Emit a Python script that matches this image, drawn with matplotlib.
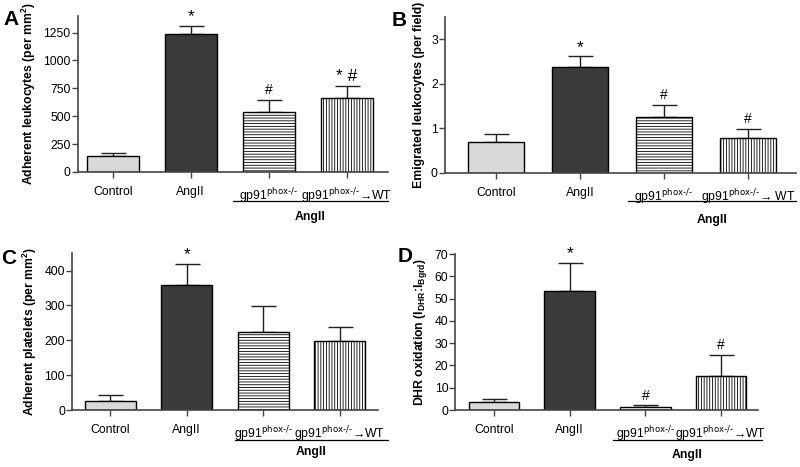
import matplotlib
matplotlib.use("Agg")
import matplotlib.pyplot as plt

plt.rcParams['font.family'] = ['Liberation Sans', 'DejaVu Sans']
plt.rcParams['mathtext.default'] = 'regular'
plt.rcParams['hatch.linewidth'] = 0.6
plt.rcParams['hatch.color'] = '#333333'

# --- data ---
groups = ['Control', 'AngII', 'gp91$^{\\text{phox-/-}}$', 'gp91$^{\\text{phox-/-}}$→WT']
groups_b = ['Control', 'AngII', 'gp91$^{\\text{phox-/-}}$', 'gp91$^{\\text{phox-/-}}$→ WT']

leuko_adh = [138, 1235, 537, 662]
leuko_adh_err = [170, 1312, 648, 773]
leuko_adh_marks = ['', '*', '#', '* #']

leuko_emi = [0.70, 2.37, 1.26, 0.79]
leuko_emi_err = [0.88, 2.61, 1.52, 0.99]
leuko_emi_marks = ['', '*', '#', '#']

platelets = [27, 359, 224, 199]
platelets_err = [42, 419, 298, 238]
platelets_marks = ['', '*', '', '']

dhr = [3.5, 53.5, 1.5, 15.3]
dhr_err = [5.0, 66.0, 2.1, 24.7]
dhr_marks = ['', '*', '#', '#']

# --- styling ---
fills = ['#d9d9d9', '#3a3a3a', 'white', 'white']
hatches = [None, None, '------', '||||||']
AXC = '#444444'
FS = 8.8

fig = plt.figure(figsize=(8, 4.67), dpi=100)


def panel(rect, letter, letter_pos, vals, errs, marks, labels, ylim, yticks,
          ylabel, xlim, line_x, line_y, grp_y):
    ax = fig.add_axes(rect)
    xs = range(len(vals))
    for i in xs:
        ax.bar(i, vals[i], width=0.67, color=fills[i], edgecolor='black',
               linewidth=1.0, hatch=hatches[i], zorder=2)
        ax.errorbar(i, vals[i], yerr=[[0], [errs[i] - vals[i]]], fmt='none',
                    ecolor='#222222', elinewidth=1.0, capsize=9,
                    capthick=1.0, zorder=1)
        if marks[i]:
            big = '*' in marks[i]
            ax.annotate(marks[i], (i, errs[i]), xytext=(0, 1 if big else 2),
                        textcoords='offset points', ha='center', va='bottom',
                        fontsize=12.5 if big else 10)
    ax.set_xlim(*xlim)
    ax.set_ylim(*ylim)
    ax.set_yticks(yticks)
    ax.set_xticks(list(xs))
    ax.set_xticklabels(labels, fontsize=FS)
    ax.tick_params(axis='y', labelsize=FS, length=4, width=1, color=AXC, pad=1)
    ax.tick_params(axis='x', length=4, width=1, color=AXC, pad=6)
    for s in ['top', 'right']:
        ax.spines[s].set_visible(False)
    for s in ['left', 'bottom']:
        ax.spines[s].set_color(AXC)
        ax.spines[s].set_linewidth(1.2)
    ax.set_ylabel(ylabel, fontsize=FS, fontweight='bold', labelpad=4)
    trans = ax.get_xaxis_transform()
    ax.plot(line_x, [line_y, line_y], color='black', lw=0.9,
            transform=trans, clip_on=False)
    ax.text(sum(line_x) / 2, grp_y, 'AngII', transform=trans, ha='center',
            va='center', fontsize=FS, fontweight='bold')
    ax.text(letter_pos[0], letter_pos[1], letter, transform=ax.transAxes,
            fontsize=15, fontweight='bold', ha='left', va='center')
    return ax


panel([0.097, 0.632, 0.388, 0.334], 'A', (-0.24, 0.975), leuko_adh,
      leuko_adh_err, leuko_adh_marks, groups, (0, 1400),
      [0, 250, 500, 750, 1000, 1250], 'Adherent leukocytes (per mm$^2$)',
      (-0.45, 3.53), [1.54, 3.53], -0.19, -0.29)

panel([0.556, 0.630, 0.439, 0.334], 'B', (-0.152, 0.975), leuko_emi,
      leuko_emi_err, leuko_emi_marks, groups_b, (0, 3.5), [0, 1, 2, 3],
      'Emigrated leukocytes (per field)', (-0.607, 3.57),
      [1.57, 3.57], -0.184, -0.30)

panel([0.090, 0.122, 0.3825, 0.336], 'C', (-0.23, 0.965), platelets,
      platelets_err, platelets_marks, groups, (0, 450),
      [0, 100, 200, 300, 400], 'Adherent platelets (per mm$^2$)',
      (-0.5, 3.5), [1.63, 3.63], -0.19, -0.27)

panel([0.569, 0.122, 0.3785, 0.334], 'D', (-0.19, 0.985), dhr, dhr_err,
      dhr_marks, groups, (0, 70), [0, 10, 20, 30, 40, 50, 60, 70],
      'DHR oxidation (I$_{DHR}$:I$_{Bgrd}$)', (-0.515, 3.49),
      [1.57, 3.54], -0.195, -0.29)

fig.savefig('out.png', dpi=100)
